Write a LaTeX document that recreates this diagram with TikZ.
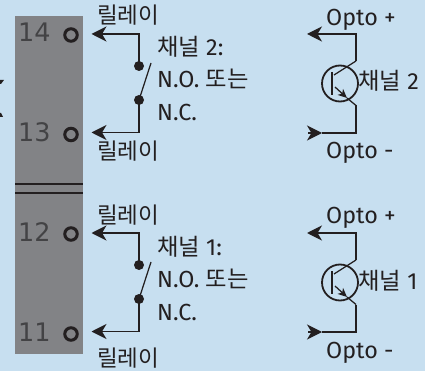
\documentclass[tikz,border=0pt]{standalone}
\usepackage{fontspec}
\setmainfont{Fira Sans}
\newfontfamily\kr{Noto Sans CJK KR}
\newfontfamily\numf{DejaVu Sans}[Scale=1]
\definecolor{bgc}{HTML}{C7DFF0}
\definecolor{barc}{HTML}{828386}
\definecolor{ink}{HTML}{231F20}
\definecolor{numc}{HTML}{434345}
\usetikzlibrary{arrows.meta}
\tikzset{
 x=1pt,y=-1pt,
 wire/.style={draw=ink,line width=1.25pt},
 ar/.style={wire,-{Stealth[length=15pt,width=15pt,inset=4.5pt]}},
 txt/.style={inner sep=0pt,text=ink,font=\fontsize{23.3}{23}\selectfont,anchor=base west},
 krtxt/.style={txt,font=\fontsize{22.5}{23}\selectfont\kr},
 numt/.style={inner sep=0pt,text=numc,font=\fontsize{25.5}{26}\selectfont\numf,anchor=base west},
 term/.style={circle,draw=ink,line width=3pt,minimum size=15pt,inner sep=0pt,outer sep=0pt},
 dotn/.style={circle,fill=ink,minimum size=10pt,inner sep=0pt},
 tcircle/.style={circle,draw=ink,line width=1.8pt,minimum size=36pt,inner sep=0pt}
}
\newcommand{\trans}[4]{%
 \coordinate (#3tr) at (356,#1);
 \coordinate (#3br) at (356,#2);
 \coordinate (#3tl) at (307,#1);
 \coordinate (#3bl) at (308,#2);
 \coordinate (#3be) at (322,#2);
 \node[tcircle] (#3c) at (340,{#1+49.5}) {};
 \coordinate (#3tj) at (356,{#1+27});
 \coordinate (#3bj) at (356,{#2-27.5});
 \coordinate (#3b1) at (332,{#1+38});
 \coordinate (#3b2) at (332,{#1+61});
 \draw[ar] (#3tj) -- (#3tr) -- (#3tl);
 \draw[wire] (#3bj) -- (#3br) -- (#3be);
 \draw[ar] (#3bl) -- (#3be);
 \draw[draw=ink,line width=2.8pt] (#3b1) -- (#3b2);
 \draw[wire] (#3tj) -- (334,{#1+41});
 \draw[wire,-{Stealth[length=9pt,width=8pt,inset=2.5pt]}] (335,{#1+53}) -- (347,{#1+64});
 \draw[wire] (347,{#1+64}) -- (#3bj);
 \node[txt] (#3lab) at (358,{#1+56}) {#4};
}
\begin{document}
\begin{tikzpicture}
\useasboundingbox[fill=bgc] (0,0) rectangle (425,371);
\fill[barc] (15,16) rectangle (83,354);
\draw[ink,line width=1.2pt] (15,184) -- (83,184);
\draw[ink,line width=1.2pt] (15,193) -- (83,193);
\fill[ink] (0,80) -- (4,80) -- (1,84) -- (0,84) -- cycle;
\fill[ink] (0,113) -- (1,113) -- (3,117) -- (0,117) -- cycle;
\node[term,minimum size=12.5pt] (t14) at (71,35) {};
\node[term,minimum size=12.5pt] (t13) at (71,134.5) {};
\node[term,minimum size=12.5pt] (t12) at (71,234) {};
\node[term,minimum size=12.5pt] (t11) at (71,334) {};
\node[numt] (n14) at (18,41.7) {14};
\node[numt] (n13) at (18,141.7) {13};
\node[numt] (n12) at (18,241.7) {12};
\node[numt] (n11) at (18,341) {11};
\coordinate (a14) at (91.5,34);
\coordinate (a13) at (91.5,132.5);
\coordinate (a12) at (91.5,233);
\coordinate (a11) at (91.5,331.5);
\coordinate (c14) at (139,34);
\coordinate (c13) at (139,132.5);
\coordinate (c12) at (139,233);
\coordinate (c11) at (139,331.5);
\node[dotn] (d14) at (139,66) {};
\node[dotn] (d13) at (139,100) {};
\node[dotn] (d12) at (139,265) {};
\node[dotn] (d11) at (139,299) {};
\coordinate (s2) at (151,63);
\coordinate (s1) at (151,262);
\draw[ar] (d14.center) -- (c14) -- (a14);
\draw[ar] (d13.center) -- (c13) -- (a13);
\draw[ar] (d12.center) -- (c12) -- (a12);
\draw[ar] (d11.center) -- (c11) -- (a11);
\draw[wire] (d13.center) -- (s2);
\draw[wire] (d11.center) -- (s1);
\node[krtxt] (l14) at (97,24) {릴레이};
\node[krtxt] (l13) at (97,159.5) {릴레이};
\node[krtxt] (l12) at (97,223) {릴레이};
\node[krtxt] (l11) at (97,366) {릴레이};
\node[txt] (c2a) at (157,56) {{\kr 채널} 2:};
\node[txt] (c2b) at (157,88) {N.O. {\kr 또는}};
\node[txt] (c2c) at (157,120.5) {N.C.};
\node[txt] (c1a) at (157,255) {{\kr 채널} 1:};
\node[txt] (c1b) at (157,287.5) {N.O. {\kr 또는}};
\node[txt] (c1c) at (157,320) {N.C.};
\trans{34}{133}{A}{{\kr 채널} 2}
\trans{233}{332}{B}{{\kr 채널} 1}
\node[txt] (o1) at (326,25.5) {Opto +};
\node[txt] (o2) at (326,159) {Opto -};
\node[txt] (o3) at (326,223.5) {Opto +};
\node[txt] (o4) at (326,358) {Opto -};
\end{tikzpicture}
\end{document}
